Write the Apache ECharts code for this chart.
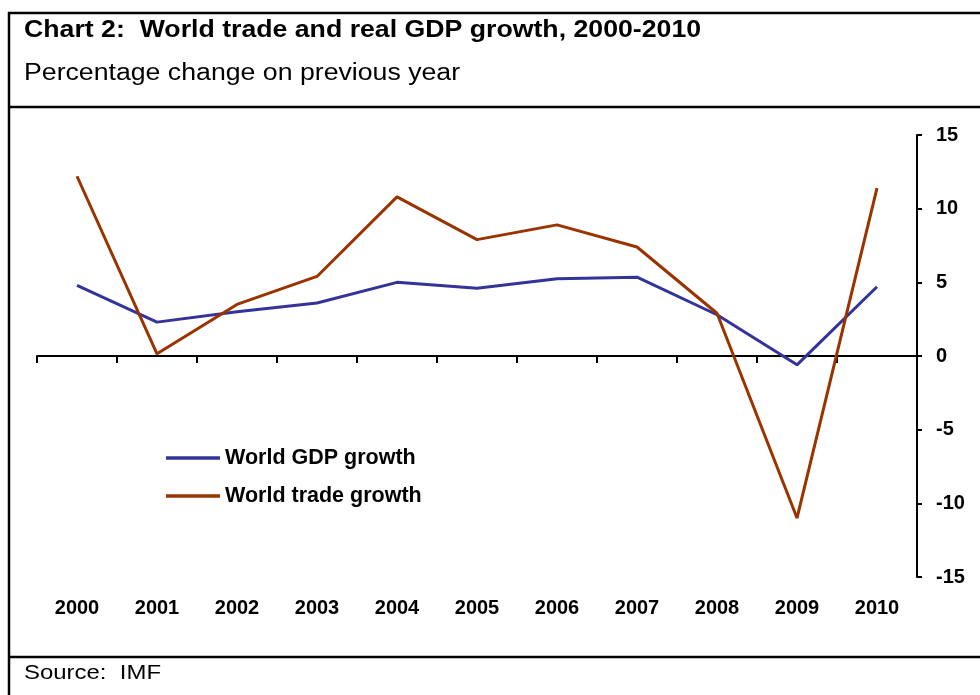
<!DOCTYPE html>
<html>
<head>
<meta charset="utf-8">
<script src="https://cdn.jsdelivr.net/npm/echarts@6/dist/echarts.min.js"></script>
<style>
html,body{margin:0;padding:0;background:#fff;}
#chart{width:980px;height:695px;}
</style>
</head>
<body>
<div id="chart"></div>
<script>
var years = ['2000','2001','2002','2003','2004','2005','2006','2007','2008','2009','2010'];
var gdpGrowth = [4.8, 2.3, 3.0, 3.6, 5.0, 4.6, 5.25, 5.35, 2.8, -0.6, 4.7];
var tradeGrowth = [12.2, 0.15, 3.5, 5.4, 10.8, 7.9, 8.9, 7.4, 2.9, -11.0, 11.4];
var yTicks = {min: -15, max: 15, interval: 5};
var titleText = 'Chart 2:  World trade and real GDP growth, 2000-2010';
var subtitleText = 'Percentage change on previous year';
var sourceText = 'Source:  IMF';
var seriesNames = ['World GDP growth', 'World trade growth'];

var FONT = '"Liberation Sans", Arial, Helvetica, sans-serif';
var chart = echarts.init(document.getElementById('chart'), null, {renderer: 'canvas'});
chart.setOption({
  animation: false,
  backgroundColor: '#fff',
  grid: {left: 37, right: 63, top: 135, bottom: 118, containLabel: false},
  graphic: [
    {type: 'rect', shape: {x: 9, y: 13, width: 1000, height: 700}, style: {fill: 'none', stroke: '#000', lineWidth: 2.5}, silent: true},
    {type: 'line', shape: {x1: 9, y1: 107, x2: 990, y2: 107}, style: {stroke: '#000', lineWidth: 2.5}, silent: true},
    {type: 'line', shape: {x1: 9, y1: 657, x2: 990, y2: 657}, style: {stroke: '#000', lineWidth: 2.5}, silent: true},
    {type: 'text', x: 24, y: 19, scaleX: 1.16, style: {text: titleText, font: 'bold 23px ' + FONT, fill: '#000'}},
    {type: 'text', x: 24, y: 62, scaleX: 1.16, style: {text: subtitleText, font: '23px ' + FONT, fill: '#000'}},
    {type: 'text', x: 24, y: 663, scaleX: 1.14, style: {text: sourceText, font: '21px ' + FONT, fill: '#000'}}
  ],
  legend: {
    orient: 'vertical',
    left: 161,
    top: 442,
    itemWidth: 54,
    itemHeight: 3.5,
    itemGap: 16,
    icon: 'rect',
    data: seriesNames,
    textStyle: {fontFamily: FONT, fontWeight: 'bold', fontSize: 21.5, lineHeight: 22, color: '#000', padding: [0, 0, 0, 0]}
  },
  xAxis: [
    {
      type: 'category', data: years, boundaryGap: true,
      axisLine: {show: true, onZero: true, lineStyle: {color: '#000', width: 2}},
      axisTick: {show: true, length: 7, inside: false, lineStyle: {color: '#000', width: 2}},
      axisLabel: {show: false},
      splitLine: {show: false}
    },
    {
      type: 'category', data: years, boundaryGap: true, position: 'bottom',
      axisLine: {show: false, onZero: false},
      axisTick: {show: false},
      axisLabel: {show: true, margin: 21, fontFamily: FONT, fontWeight: 'bold', fontSize: 20, color: '#000'},
      splitLine: {show: false}
    }
  ],
  yAxis: {
    type: 'value', position: 'right',
    min: yTicks.min, max: yTicks.max, interval: yTicks.interval,
    axisLine: {show: true, lineStyle: {color: '#000', width: 2}},
    axisTick: {show: true, length: 5, inside: false, lineStyle: {color: '#000', width: 2}},
    axisLabel: {show: true, margin: 19, padding: [6, 0, 0, 0], fontFamily: FONT, fontWeight: 'bold', fontSize: 20, color: '#000'},
    splitLine: {show: false}
  },
  series: [
    {name: seriesNames[0], type: 'line', data: gdpGrowth, symbol: 'none', color: '#333399', lineStyle: {color: '#333399', width: 3}, xAxisIndex: 0},
    {name: seriesNames[1], type: 'line', data: tradeGrowth, symbol: 'none', color: '#993300', lineStyle: {color: '#993300', width: 3}, xAxisIndex: 0}
  ]
});
</script>
</body>
</html>
